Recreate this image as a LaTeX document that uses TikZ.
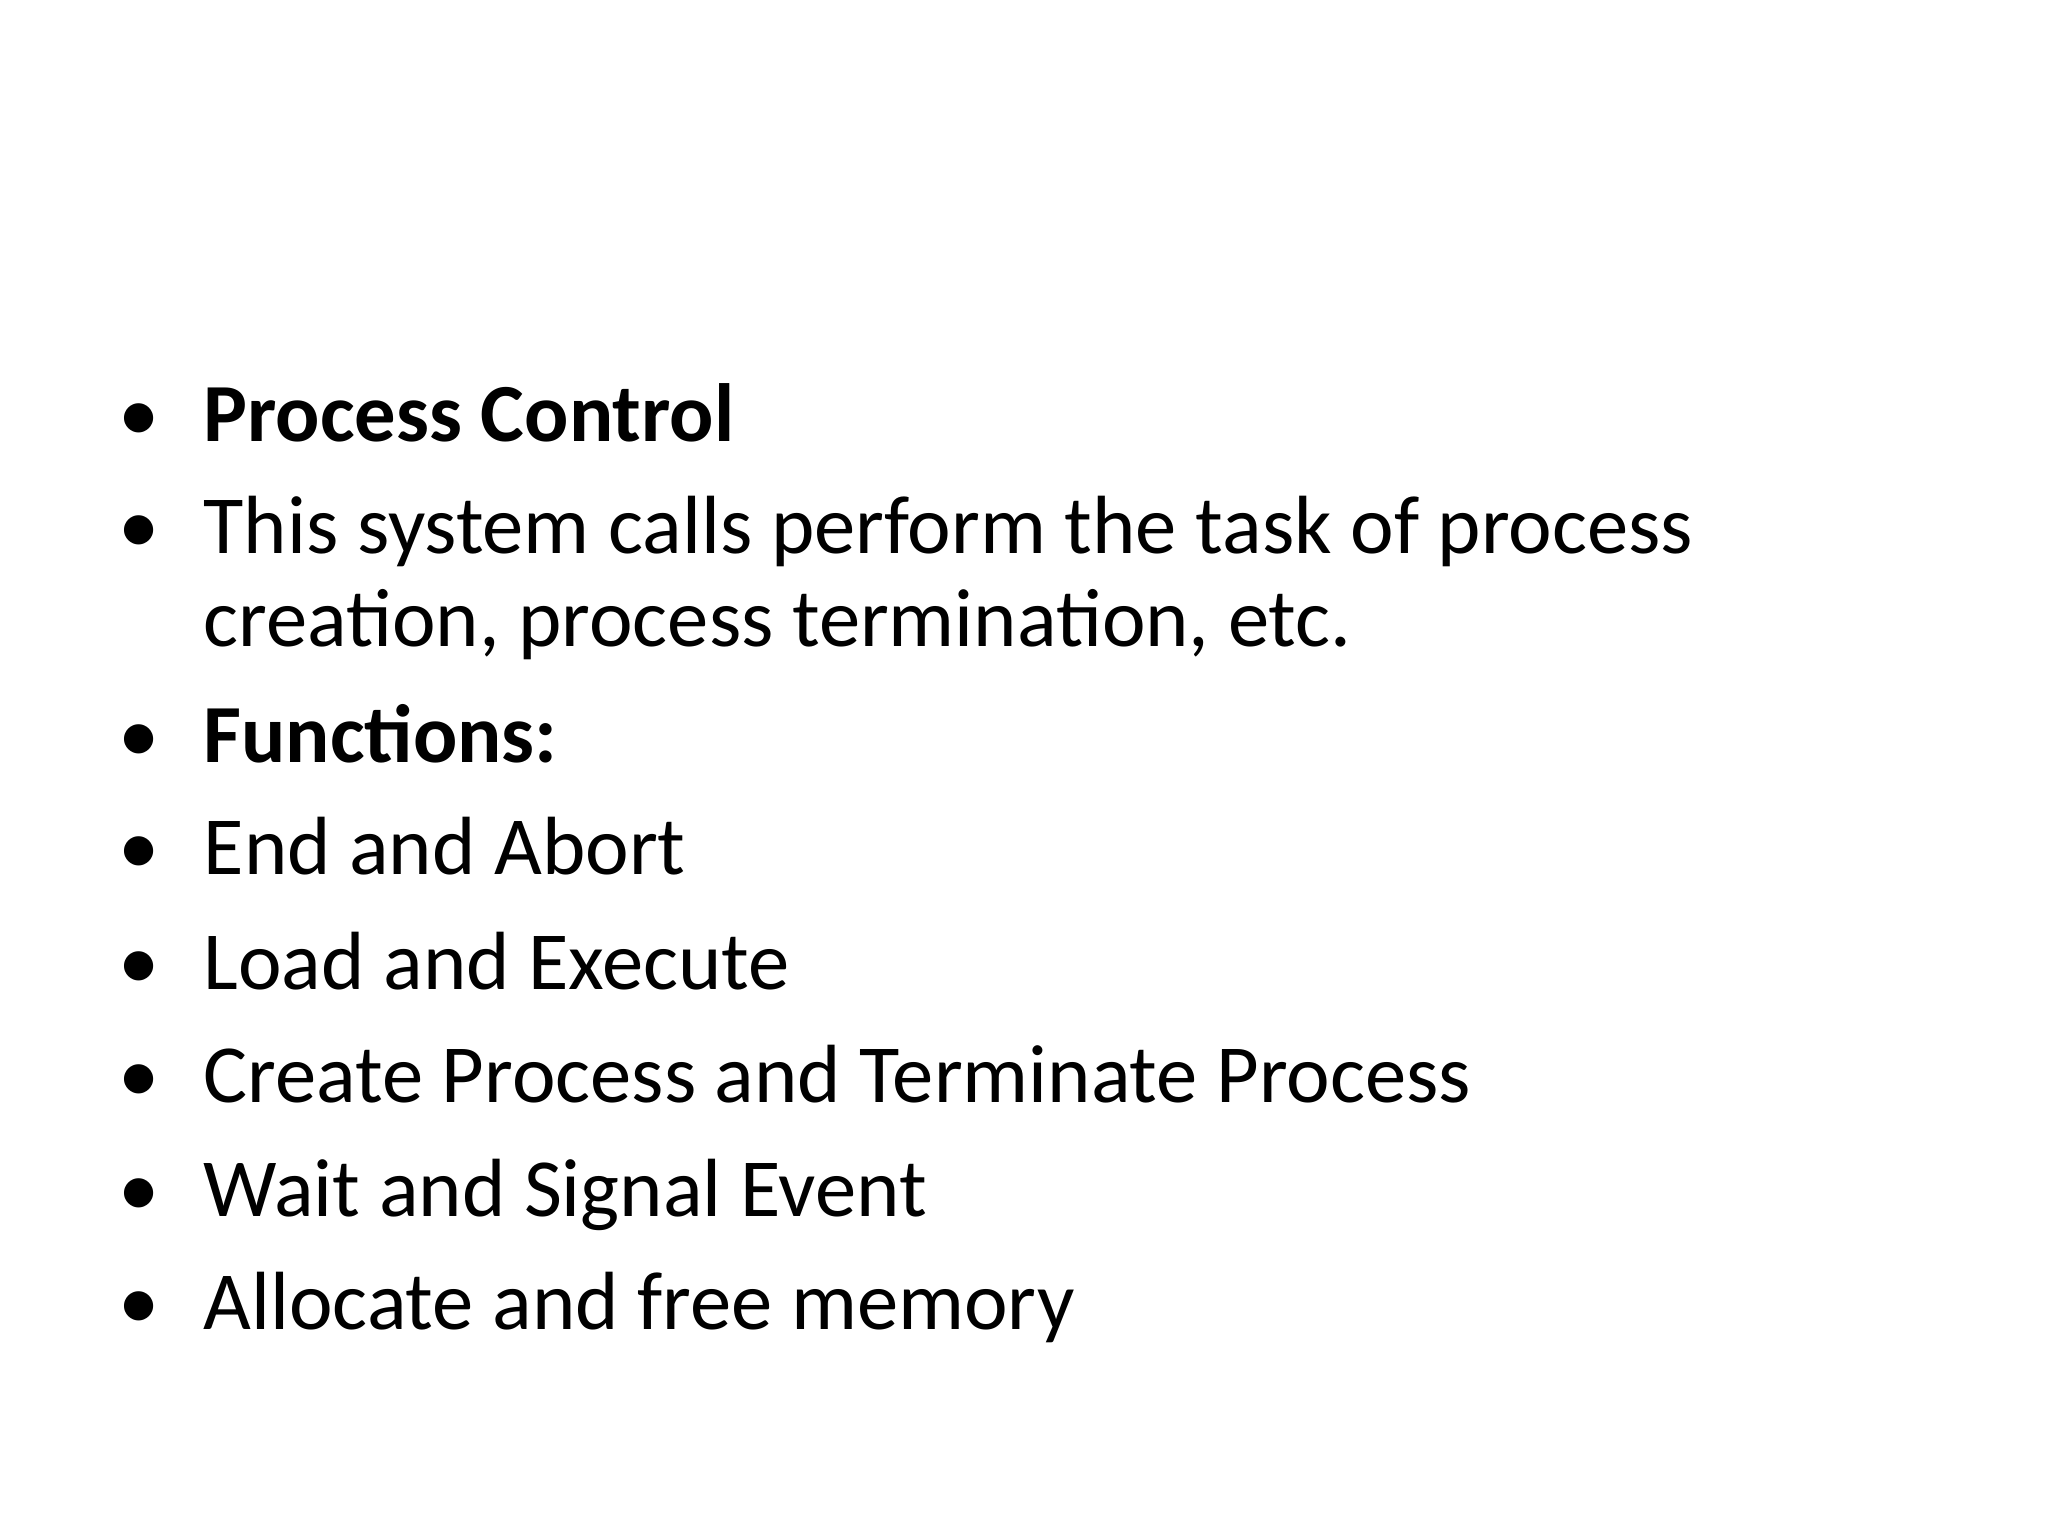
\documentclass[tikz,border=0pt]{standalone}
\usepackage{fontspec}
\setmainfont{Carlito}
\begin{document}
\begin{tikzpicture}[x=1cm,y=1cm,
  txt/.style={anchor=base west,inner sep=0pt,font=\fontsize{23.5pt}{28pt}\selectfont},
  bul/.style={anchor=base,inner sep=0pt,font=\fontsize{23.5pt}{28pt}\selectfont}]
\useasboundingbox (0,0) rectangle (20.48,15.36);
\foreach \n/\y in {a/4.42,b/5.54,d/7.63,e/8.75,f/9.90,g/11.03,h/12.17,i/13.30}{
  \node[bul] (bul\n) at (1.39,15.36-\y) {•};}
\node[txt] (a) at (2.03,15.36-4.42) {\textbf{Process Control}};
\node[txt] (b) at (2.03,15.36-5.54) {This system calls perform the task of process};
\node[txt] (c) at (2.03,15.36-6.47) {creation, process termination, etc.};
\node[txt] (d) at (2.03,15.36-7.63) {\textbf{Functions:}};
\node[txt] (e) at (2.03,15.36-8.75) {End and Abort};
\node[txt] (f) at (2.03,15.36-9.90) {Load and Execute};
\node[txt] (g) at (2.03,15.36-11.03) {Create Process and Terminate Process};
\node[txt] (h) at (2.03,15.36-12.17) {Wait and Signal Event};
\node[txt] (i) at (2.03,15.36-13.30) {Allocate and free memory};
\end{tikzpicture}
\end{document}
